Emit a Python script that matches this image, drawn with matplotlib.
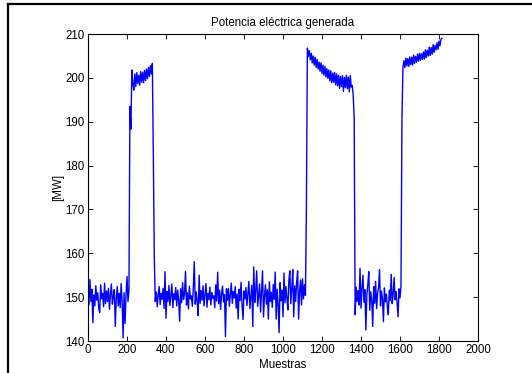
import numpy as np
import matplotlib
matplotlib.use("Agg")
import matplotlib.pyplot as plt
from matplotlib.lines import Line2D

# ---- data (one value every 5 samples) ----
sample_step = 5
base_a = [151.5, 148.2, 154.0, 149.0, 151.8, 144.2, 150.5, 148.0, 152.6, 149.3,
          151.0, 147.5, 146.5, 152.8, 149.6, 150.9, 147.8, 153.2, 148.5, 151.4,
          149.0, 152.0, 147.2, 150.6, 153.0, 148.4, 150.2, 151.7, 143.3, 149.8,
          152.4, 148.0, 150.9, 147.6, 153.1, 149.2, 140.7, 151.0, 144.0, 150.5,
          154.7, 149.0, 151.5]
rise_a = [193.5, 188.3]
plateau_a = [201.8, 198.6, 197.2, 200.9, 198.0, 201.2, 198.7, 200.6, 198.3, 201.4,
             199.0, 201.3, 198.9, 201.7, 199.4, 202.0, 199.8, 202.4, 200.3, 202.8,
             200.9, 203.3]
drop_a = [182.5, 159.3]
base_b = [149.0, 151.2, 147.8, 150.6, 152.4, 148.3, 150.9, 149.5, 152.0, 147.4,
          155.8, 145.2, 151.3, 149.0, 152.7, 148.1, 150.4, 153.0, 147.6, 150.8,
          149.4, 152.2, 148.0, 151.6, 149.2, 144.5, 151.9, 148.7, 153.3, 149.5,
          150.7, 155.9, 148.2, 151.0, 147.3, 152.5, 149.6, 150.3, 147.9, 152.1,
          158.1, 148.4, 151.2, 149.0, 145.8, 155.0, 148.6, 151.5, 149.3, 152.6,
          148.0, 150.5, 153.1, 147.7, 150.9, 149.4, 152.3, 148.2, 151.1, 149.7,
          150.3, 147.6, 152.8, 149.1, 155.7, 148.5, 151.6, 147.2, 150.8, 152.5,
          148.9, 150.6, 141.0, 151.9, 149.3, 152.0, 147.9, 150.4, 153.2, 148.6,
          151.3, 149.8, 152.4, 147.5, 150.7, 145.0, 151.8, 149.2, 153.4, 148.3,
          144.9, 151.4, 149.6, 152.2, 148.1, 150.9, 153.6, 147.4, 150.2, 152.7,
          143.3, 156.9, 148.8, 151.5, 156.0, 147.9, 150.6, 153.0, 146.6, 151.2,
          156.0, 145.5, 150.3, 152.8, 148.4, 151.7, 145.0, 153.5, 149.0, 151.1,
          147.7, 152.9, 149.5, 155.7, 145.0, 151.8, 148.3, 141.9, 153.3, 149.2,
          151.6, 145.5, 155.5, 148.7, 152.4, 149.9, 147.1, 153.8, 156.0, 148.5,
          151.9, 156.3, 145.5, 152.6, 149.0, 153.4, 156.0, 145.0, 151.3, 153.9,
          148.2, 154.2, 149.6, 152.8, 150.4]
rise_b = [170.0]
plateau_b = [206.8, 204.9, 206.2, 204.1, 205.6, 203.4, 205.0, 202.9, 204.7, 202.4,
             204.2, 202.0, 203.6, 201.5, 203.4, 201.0, 202.9, 200.6, 202.6, 200.2,
             202.1, 199.9, 201.8, 199.3, 201.6, 198.9, 201.1, 199.0, 201.2, 198.4,
             200.9, 198.2, 200.6, 197.6, 200.3, 198.0, 200.5, 196.9, 200.1, 197.8,
             200.6, 197.5, 200.2, 196.8, 200.5, 197.9, 198.3]
drop_b = [196.0, 191.0]
base_c = [146.0, 152.3, 149.0, 151.5, 148.2, 156.6, 147.5, 152.0, 155.0, 148.8,
          151.7, 142.5, 150.4, 152.9, 155.8, 147.0, 151.2, 149.3, 143.3, 152.4,
          148.6, 153.6, 147.4, 150.9, 152.2, 156.3, 148.0, 151.4, 149.6, 144.4,
          152.1, 148.9, 150.7, 147.8, 146.0, 151.6, 149.2, 155.2, 148.5, 150.8,
          154.5, 149.4, 151.3, 148.7, 145.5, 151.9, 149.8, 152.5]
rise_c = [190.5]
plateau_c = [202.2, 203.9, 202.3, 204.5, 202.7, 204.4, 202.6, 204.8, 203.0, 204.7,
             202.9, 205.2, 203.3, 204.9, 203.6, 205.4, 203.8, 205.6, 204.0, 205.5,
             204.2, 205.9, 204.3, 206.4, 204.6, 206.3, 205.0, 207.0, 205.1, 206.9,
             205.4, 207.6, 205.8, 207.4, 206.4, 208.0, 206.5, 208.4, 207.3, 208.8,
             209.0]

x_ticks = [0, 200, 400, 600, 800, 1000, 1200, 1400, 1600, 1800, 2000]
y_ticks = [140, 150, 160, 170, 180, 190, 200, 210]
title = "Potencia eléctrica generada"
xlabel = "Muestras"
ylabel = "[MW]"

power = np.array(base_a + rise_a + plateau_a + drop_a + base_b + rise_b +
                 plateau_b + drop_b + base_c + rise_c + plateau_c)
samples = np.arange(len(power)) * sample_step

plt.rcParams['font.family'] = ['Liberation Sans', 'DejaVu Sans']
fs = 8.3

fig = plt.figure(figsize=(5.32, 3.73), dpi=100)
fig.patch.set_facecolor('white')
ax = fig.add_axes([88/532, 32/373, 390/532, 307/373])
ax.plot(samples, power, color=(0, 0, 1), lw=1.0)
ax.set_xlim(0, 2000)
ax.set_ylim(140, 210)
ax.set_xticks(x_ticks)
ax.set_yticks(y_ticks)
ax.tick_params(direction='in', length=3.5, width=0.6, labelsize=fs,
               top=True, right=True, pad=2.5, colors='black')
for s in ax.spines.values():
    s.set_linewidth(0.8)
ax.set_title(title, fontsize=fs, pad=6)
ax.set_xlabel(xlabel, fontsize=fs, labelpad=1.5)
ax.set_ylabel(ylabel, fontsize=fs, labelpad=0.5)

# outer frame lines (top and left)
fig.add_artist(Line2D([7.5/532, 7.5/532], [0, 1 - 4/373], color='black', lw=1.6,
                      transform=fig.transFigure))
fig.add_artist(Line2D([7.5/532, 1], [1 - 4/373, 1 - 4/373], color='black', lw=1.6,
                      transform=fig.transFigure))

fig.savefig("out.png", dpi=100)
